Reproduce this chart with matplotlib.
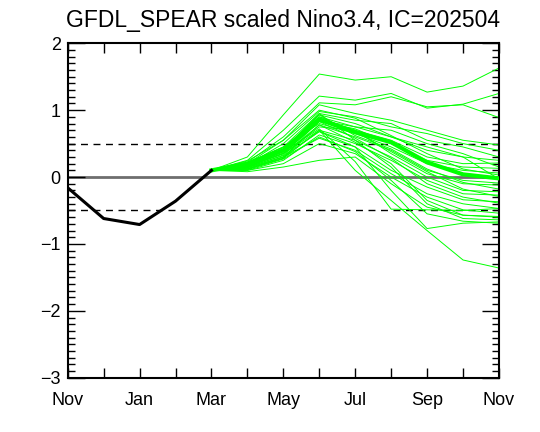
import numpy as np
import matplotlib.pyplot as plt
from matplotlib.ticker import MultipleLocator

plt.rcParams['font.family'] = ['Liberation Sans', 'DejaVu Sans']

# months counted from Nov of previous year (0) to Nov (12)
tick_labels = ['Nov', 'Jan', 'Mar', 'May', 'Jul', 'Sep', 'Nov']

# observed Nino3.4, Nov .. Mar
obs_months = [0, 1, 2, 3, 4]
obs = [-0.16, -0.62, -0.71, -0.36, 0.10]

# forecast months, Mar .. Nov (Mar is the initial value)
fc_months = [4, 5, 6, 7, 8, 9, 10, 11, 12]

# ensemble members, Apr .. Nov
members = [
    [0.30, 0.93, 1.54, 1.45, 1.50, 1.27, 1.36, 1.63],
    [0.25, 0.70, 1.21, 1.15, 1.25, 1.03, 1.09, 1.25],
    [0.22, 0.60, 1.11, 1.08, 1.20, 1.05, 1.08, 0.89],
    [0.20, 0.55, 1.08, 0.95, 0.85, 0.70, 0.55, 0.48],
    [0.18, 0.50, 0.98, 0.90, 0.75, 0.65, 0.50, 0.40],
    [0.22, 0.45, 0.95, 0.85, 0.80, 0.55, 0.45, 0.30],
    [0.15, 0.40, 0.93, 0.80, 0.60, 0.40, 0.30, 0.25],
    [0.18, 0.38, 0.88, 0.70, 0.55, 0.30, 0.20, 0.21],
    [0.20, 0.42, 0.90, 0.75, 0.70, 0.50, 0.35, 0.15],
    [0.16, 0.35, 0.83, 0.72, 0.50, 0.25, 0.15, 0.13],
    [0.20, 0.45, 0.80, 0.65, 0.45, 0.20, 0.10, 0.06],
    [0.24, 0.55, 1.00, 0.88, 0.62, 0.35, 0.12, 0.03],
    [0.12, 0.28, 0.85, 0.75, 0.60, 0.45, 0.30, -0.03],
    [0.14, 0.30, 0.78, 0.60, 0.40, 0.10, -0.05, -0.09],
    [0.17, 0.35, 0.75, 0.70, 0.35, 0.05, -0.10, -0.12],
    [0.19, 0.40, 0.93, 0.62, 0.42, 0.12, -0.08, -0.18],
    [0.12, 0.28, 0.70, 0.55, 0.30, 0.00, -0.20, -0.22],
    [0.15, 0.32, 0.68, 0.50, 0.25, -0.05, -0.25, -0.27],
    [0.21, 0.44, 0.90, 0.68, 0.38, 0.08, -0.18, -0.29],
    [0.10, 0.25, 0.63, 0.45, 0.10, -0.15, -0.34, -0.37],
    [0.16, 0.36, 0.83, 0.58, 0.28, -0.10, -0.30, -0.39],
    [0.13, 0.30, 0.58, 0.40, 0.05, -0.25, -0.40, -0.47],
    [0.15, 0.38, 0.72, 0.23, -0.48, -0.49, -0.50, -0.47],
    [0.10, 0.20, 0.50, 0.35, 0.00, -0.30, -0.49, -0.54],
    [0.14, 0.33, 0.78, 0.52, 0.20, -0.35, -0.57, -0.59],
    [0.08, 0.15, 0.25, 0.30, -0.10, -0.45, -0.57, -0.60],
    [0.18, 0.40, 0.95, 0.55, 0.15, -0.40, -0.62, -0.64],
    [0.12, 0.30, 0.68, 0.45, -0.20, -0.77, -0.69, -0.67],
    [0.11, 0.27, 0.60, 0.38, -0.05, -0.55, -0.66, -0.69],
    [0.15, 0.35, 0.70, 0.10, -0.35, -0.80, -1.24, -1.36],
]

# ensemble mean, Mar .. Nov
ens_mean = [0.10, 0.20, 0.40, 0.86, 0.67, 0.52, 0.22, 0.04, -0.02]

fig = plt.figure(figsize=(5.4, 4.32), dpi=100)
ax = fig.add_axes([0.1254, 0.1257, 0.7986, 0.7741])

ax.axhline(0, color='#6e6e6e', lw=2, zorder=1)
ax.axhline(0.5, color='black', lw=1, ls=(0, (5, 4)), zorder=1)
ax.axhline(-0.5, color='black', lw=1, ls=(0, (5, 4)), zorder=1)

for m in members:
    ax.plot(fc_months, [obs[-1]] + m, color='#00ff00', lw=0.7, zorder=2)
ax.plot(fc_months, ens_mean, color='#00ff00', lw=3, zorder=3)
ax.plot(obs_months, obs, color='black', lw=2.2, zorder=4)

ax.set_xlim(0, 12)
ax.set_ylim(-3, 2)
ax.set_xticks(np.arange(0, 13, 2))
ax.set_xticklabels(tick_labels)
ax.xaxis.set_minor_locator(MultipleLocator(1))
ax.yaxis.set_minor_locator(MultipleLocator(0.1))
ax.set_yticks(np.arange(-3, 3, 1))
ax.set_yticklabels(['\u22123', '\u22122', '\u22121', '0', '1', '2'])
ax.tick_params(which='both', direction='in', top=True, right=True, labelsize=13, width=1)
ax.tick_params(which='both', axis='x', length=7, pad=10)
ax.tick_params(which='major', axis='y', length=12, pad=5)
ax.tick_params(which='minor', axis='y', length=5)
for s in ax.spines.values():
    s.set_linewidth(1.5)

ax.set_title('GFDL_SPEAR scaled Nino3.4, IC=202504', fontsize=16.5, pad=12)

fig.savefig('out.png', dpi=100)
